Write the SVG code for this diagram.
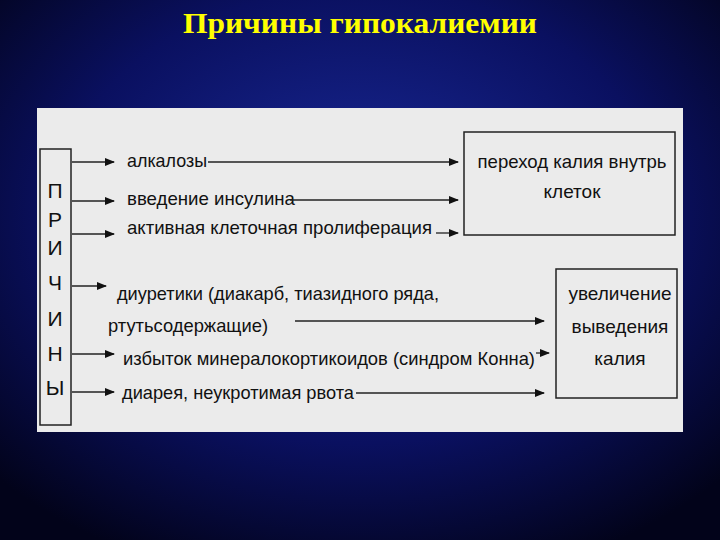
<svg xmlns="http://www.w3.org/2000/svg" width="720" height="540" viewBox="0 0 720 540">
<defs>
<radialGradient id="bg" cx="50%" cy="40%" r="70%">
<stop offset="0" stop-color="#1a2a9a"/><stop offset="0.6" stop-color="#0a1060"/><stop offset="1" stop-color="#02031a"/>
</radialGradient>
<marker id="ah" markerWidth="10" markerHeight="8" refX="9" refY="4" orient="auto" markerUnits="userSpaceOnUse"><path d="M0,0 L10,4 L0,8 Z" fill="#111"/></marker>
<style>
.t{font-family:"Liberation Sans",Arial,sans-serif;font-size:19px;fill:#111}
.l{font-family:"Liberation Sans",Arial,sans-serif;font-size:21px;fill:#111}
.b{fill:none;stroke:#222;stroke-width:1.5}
.c{stroke:#222;stroke-width:1.3;fill:none;marker-end:url(#ah)}
</style>
</defs>
<rect width="720" height="540" fill="url(#bg)"/>
<text x="360" y="33" text-anchor="middle" font-family="Liberation Serif,serif" font-weight="bold" font-size="30" fill="#ffff00" textLength="354" lengthAdjust="spacingAndGlyphs">Причины гипокалиемии</text>
<rect x="37" y="108" width="646" height="324" fill="#ebebeb"/>
<g id="causes">
<rect class="b" x="40" y="149" width="31" height="276"/>
<text class="l" x="55" y="198" text-anchor="middle">П</text>
<text class="l" x="55" y="227" text-anchor="middle">Р</text>
<text class="l" x="55" y="255" text-anchor="middle">И</text>
<text class="l" x="55" y="290" text-anchor="middle">Ч</text>
<text class="l" x="55" y="326" text-anchor="middle">И</text>
<text class="l" x="55" y="361" text-anchor="middle">Н</text>
<text class="l" x="55" y="395" text-anchor="middle">Ы</text>
</g>
<g id="labels">
<text class="t" x="127" y="167" textLength="80" lengthAdjust="spacingAndGlyphs">алкалозы</text>
<text class="t" x="127" y="205" textLength="168" lengthAdjust="spacingAndGlyphs">введение инсулина</text>
<text class="t" x="127" y="234" textLength="305" lengthAdjust="spacingAndGlyphs">активная клеточная пролиферация</text>
<text class="t" x="117" y="300" textLength="322" lengthAdjust="spacingAndGlyphs">диуретики (диакарб, тиазидного ряда,</text>
<text class="t" x="108" y="332" textLength="160" lengthAdjust="spacingAndGlyphs">ртутьсодержащие)</text>
<text class="t" x="123" y="365" textLength="412" lengthAdjust="spacingAndGlyphs">избыток минералокортикоидов (синдром Конна)</text>
<text class="t" x="122" y="399" textLength="232" lengthAdjust="spacingAndGlyphs">диарея, неукротимая рвота</text>
</g>
<g id="box1">
<rect class="b" x="464" y="132" width="211" height="103"/>
<text class="t" x="572" y="168" text-anchor="middle" textLength="189" lengthAdjust="spacingAndGlyphs">переход калия внутрь</text>
<text class="t" x="572" y="198" text-anchor="middle">клеток</text>
</g>
<g id="box2">
<rect class="b" x="556" y="269" width="121" height="129"/>
<text class="t" x="620" y="300" text-anchor="middle">увеличение</text>
<text class="t" x="620" y="333" text-anchor="middle">выведения</text>
<text class="t" x="620" y="365" text-anchor="middle">калия</text>
</g>
<g id="connectors">
<line class="c" x1="72" y1="162" x2="114" y2="162"/>
<line class="c" x1="72" y1="201" x2="114" y2="201"/>
<line class="c" x1="72" y1="234" x2="114" y2="234"/>
<line class="c" x1="72" y1="286" x2="106" y2="286"/>
<line class="c" x1="72" y1="354" x2="114" y2="354"/>
<line class="c" x1="72" y1="392" x2="114" y2="392"/>
<line class="c" x1="208" y1="162" x2="458" y2="162"/>
<line class="c" x1="290" y1="200" x2="458" y2="200"/>
<line class="c" x1="436" y1="233" x2="458" y2="233"/>
<line class="c" x1="295" y1="321" x2="544" y2="321"/>
<line class="c" x1="536" y1="353" x2="549" y2="353"/>
<line class="c" x1="356" y1="393" x2="544" y2="393"/>
</g>
</svg>
